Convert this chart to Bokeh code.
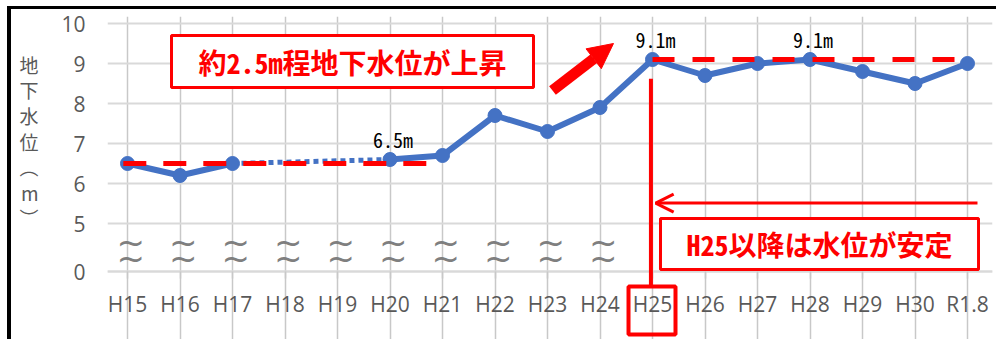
import math
from bokeh.plotting import figure
from bokeh.models import (FixedTicker, Range1d, BoxAnnotation, Label, Arrow,
                          NormalHead, OpenHead, PolyAnnotation)
from bokeh.core.properties import value
from bokeh.embed import file_html
from bokeh.resources import INLINE

# ---------------- data ----------------
years = ["H15", "H16", "H17", "H18", "H19", "H20", "H21", "H22", "H23",
         "H24", "H25", "H26", "H27", "H28", "H29", "H30", "R1.8"]
levels = [6.5, 6.2, 6.5, float("nan"), float("nan"), 6.6, 6.7, 7.7, 7.3,
          7.9, 9.1, 8.7, 9.0, 9.1, 8.8, 8.5, 9.0]
y_ticks = [5, 6, 7, 8, 9, 10]
break_tick_label = "0"
level_before = 6.5
level_after = 9.1
point_label_years = ["H20", "H25", "H28"]
point_label_texts = ["6.5m", "9.1m", "9.1m"]
break_years = ["H15", "H16", "H17", "H18", "H19", "H20", "H21", "H22", "H23", "H24"]
y_title = "地\n下\n水\n位\n︵\nm\n︶"
note_rise = "約2.5m程地下水位が上昇"
note_stable = "H25以降は水位が安定"

# ---------------- layout constants ----------------
BLUE = "#4472C4"
RED = "#FF0000"
GRAY_TXT = "#595959"
Y_BREAK = 3.8  # position standing for the broken-axis "0"
xi = {c: i for i, c in enumerate(years)}
xs = list(range(len(years)))

p = figure(width=989, height=333,
           x_range=Range1d(-0.381, len(years) - 1 + 0.476),
           y_range=Range1d(Y_BREAK - 71 / 40, 10.175),
           output_backend="svg", toolbar_location=None,
           min_border_left=96, min_border_right=8,
           min_border_top=7, min_border_bottom=0)
p.outline_line_color = None
p.background_fill_color = "white"
p.border_fill_color = "white"
p.margin = (6, 0, 0, 7)
p.styles = {"border-top": "3px solid black", "border-left": "4px solid black"}

# axes
p.xaxis.fixed_location = Y_BREAK
p.xaxis.ticker = FixedTicker(ticks=xs)
p.xaxis.major_label_overrides = {i: c for i, c in enumerate(years)}
p.xaxis.axis_line_color = "#d9d9d9"
p.xaxis.axis_line_width = 2
p.xaxis.major_tick_line_color = "#c8c8c8"
p.xaxis.major_tick_line_width = 1.5
p.xaxis.major_tick_out = 7
p.xaxis.major_tick_in = 0
p.xaxis.minor_tick_line_color = None
p.xaxis.major_label_standoff = 11
p.xaxis.major_label_text_font = "Open Sans"
p.xaxis.major_label_text_font_size = "21px"
p.xaxis.major_label_text_color = GRAY_TXT

p.yaxis.ticker = FixedTicker(ticks=[Y_BREAK] + y_ticks)
p.yaxis.major_label_overrides = {Y_BREAK: break_tick_label}
p.yaxis.axis_line_color = None
p.yaxis.major_tick_line_color = None
p.yaxis.minor_tick_line_color = None
p.yaxis.major_tick_out = 0
p.yaxis.major_tick_in = 0
p.yaxis.major_label_standoff = 22
p.yaxis.major_label_text_font = "Open Sans"
p.yaxis.major_label_text_font_size = "21px"
p.yaxis.major_label_text_color = GRAY_TXT
# trailing blank lines lift the stacked title toward the upper part of the axis
p.yaxis.axis_label = y_title + "\n \n \n "
p.yaxis.axis_label_orientation = "horizontal"
p.yaxis.axis_label_text_font = "Noto Sans CJK JP"
p.yaxis.axis_label_text_font_style = "normal"
p.yaxis.axis_label_text_font_size = "19px"
p.yaxis.axis_label_text_color = GRAY_TXT
p.yaxis.axis_label_text_line_height = 0.95
p.yaxis.axis_label_standoff = 20

# grids
p.xgrid.ticker = FixedTicker(ticks=xs)
p.xgrid.grid_line_color = "#c8c8c8"
p.xgrid.grid_line_width = 1.5
p.xgrid.bounds = (Y_BREAK, 10.175)
p.ygrid.ticker = FixedTicker(ticks=[Y_BREAK] + y_ticks)
p.ygrid.grid_line_color = "#d9d9d9"
p.ygrid.grid_line_width = 2

# axis-break marks
bx = [xi[c] + 0.06 for c in break_years]
for yb in (4.53, 4.13):
    p.text(x=bx, y=[yb] * len(bx), text=["~"] * len(bx), text_font=value("DejaVu Sans"),
           text_font_size="34px", text_color="#7f7f7f", text_align="center",
           text_baseline="middle")

# bridge over missing years (dotted)
valid = [i for i, v in enumerate(levels) if not math.isnan(v)]
for a, b in zip(valid[:-1], valid[1:]):
    if b - a > 1:
        p.line([a, b], [levels[a], levels[b]], line_color=BLUE, line_width=5, line_dash="5 4")

# main series
p.line(xs, levels, line_color=BLUE, line_width=6, line_join="round")
vx = [xs[i] for i in valid]
vy = [levels[i] for i in valid]
p.scatter(vx, vy, size=14, fill_color=BLUE, line_color=BLUE)

# red dashed reference levels
p.line([xi["H15"] - 0.08, xi["H21"] - 0.27], [level_before] * 2,
       line_color=RED, line_width=5, line_dash="23 17")
p.line([xi["H25"], xi["R1.8"] - 0.19], [level_after] * 2,
       line_color=RED, line_width=5, line_dash="22 18")

# point labels
p.text(x=[xi[c] for c in point_label_years], y=[levels[xi[c]] for c in point_label_years],
       text=point_label_texts, x_offset=3, y_offset=-20,
       text_font=value("'Noto Sans Mono CJK JP', 'Liberation Mono', monospace"),
       text_font_size="20px", text_color="black", text_align="center", text_baseline="middle")

# note box: rise
p.add_layout(BoxAnnotation(left=0.838, right=7.733, top=9.7, bottom=8.4,
                           fill_color="white", fill_alpha=1.0,
                           line_color=RED, line_width=3, line_alpha=1.0))
p.add_layout(Label(x=4.286, y=9.05, text=note_rise, text_align="center", text_baseline="middle",
                   text_font="'Noto Sans Mono CJK JP', 'Noto Sans CJK JP', sans-serif",
                   text_font_style="bold", text_font_size="28px", text_color=RED))

# thick diagonal arrow
p.add_layout(Arrow(x_start=8.095, y_start=8.325, x_end=9.257, y_end=9.5,
                   line_color=RED, line_width=11,
                   end=NormalHead(size=25, fill_color=RED, line_color=RED, line_width=1)))

# vertical red marker line down to the H25 tick label
x25 = xi["H25"] - 0.03
p.add_layout(Arrow(x_start=x25, y_start=8.62, x_end=x25, y_end=3.42,
                   line_color=RED, line_width=4, end=None))
# frame around the H25 tick label
p.add_layout(PolyAnnotation(xs=[9.543, 10.438, 10.438, 9.543], ys=[3.425, 3.425, 2.225, 2.225],
                            fill_alpha=0, line_color=RED, line_width=4, line_alpha=1.0))

# horizontal arrow
p.add_layout(Arrow(x_start=xi["R1.8"] + 0.19, y_start=5.51, x_end=xi["H25"] + 0.06, y_end=5.51,
                   line_color=RED, line_width=3,
                   end=OpenHead(size=18, line_color=RED, line_width=3)))

# note box: stable
p.add_layout(BoxAnnotation(left=10.152, right=16.21, top=5.125, bottom=3.85,
                           fill_color="white", fill_alpha=1.0,
                           line_color=RED, line_width=3, line_alpha=1.0))
p.add_layout(Label(x=13.18, y=4.49, text=note_stable, text_align="center", text_baseline="middle",
                   text_font="'Noto Sans Mono CJK JP', 'Noto Sans CJK JP', sans-serif",
                   text_font_style="bold", text_font_size="28px", text_color=RED))

open("out.html", "w").write(file_html(p, INLINE))
